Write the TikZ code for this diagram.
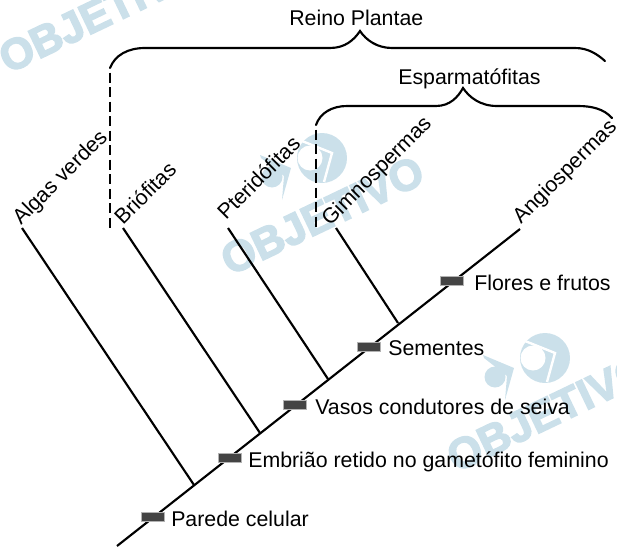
\documentclass[tikz,border=0pt]{standalone}
\usepackage{fontspec}
\setmainfont{Liberation Sans}
\newfontfamily\wmfont[BoldFeatures={FakeBold=3.5}]{Liberation Sans}
\definecolor{wm}{HTML}{CBE0EA}
\definecolor{barcol}{HTML}{444444}
\tikzset{
  x=0.75pt,y=-0.75pt,
  lbl/.style={font=\fontsize{16pt}{19pt}\selectfont,inner sep=0pt,anchor=base west,text=black},
  taxon/.style={lbl,rotate=45},
  traitbar/.style={fill=barcol,draw=gray!60,line width=0.4pt,minimum width=17pt,minimum height=7pt,inner sep=0pt},
  branch/.style={line width=1.6pt,black},
  brace/.style={line width=1.6pt,black,line cap=round},
  dashline/.style={line width=1.1pt,black,dash pattern=on 7.5pt off 3.4pt,dash phase=7.5pt},
  wmtext/.style={font=\fontsize{32.4pt}{34pt}\selectfont\wmfont\bfseries,text=wm,inner sep=0pt,anchor=base west,rotate=25.6},
}
\newcommand{\wmlogo}[2]{%
  \begin{scope}[shift={(#1,#2)}]
    \fill[wm] (0,0) circle (25);
    \draw[white,line width=1.8pt,line join=miter] (-20,-17) -- (10,-5) -- (2,24);
    \fill[white] (-12,0) circle (12.5);
    \fill[wm] (-50,19) circle (10.5);
    \fill[wm] (-62,-3) -- (-31,10) -- (-40,42) -- (-38,18) -- (-61,0) -- cycle;
  \end{scope}}
\begin{document}
\begin{tikzpicture}
\useasboundingbox (0,0) rectangle (617,546);
\begin{scope}
\clip (0,0) rectangle (617,546);
\node[wmtext] (wm1) at (8,74) {OBJETIVO};
\node[wmtext] (wm2) at (230,276) {OBJETIVO};
\node[wmtext] (wm3) at (456,473) {OBJETIVO};
\wmlogo{322}{158}
\wmlogo{545}{358}
\end{scope}

% coordinates of the phylogeny
\coordinate (root) at (117,546);
\coordinate (tipA) at (520,229);
\coordinate (n1) at (194,485);
\coordinate (n2) at (260,433);
\coordinate (n3) at (328,379);
\coordinate (n4) at (398,323);
\coordinate (t1) at (22,228);
\coordinate (t2) at (123,228);
\coordinate (t3) at (228,228);
\coordinate (t4) at (336,228);
\coordinate (d1a) at (110,68);
\coordinate (d1b) at (110,229);
\coordinate (d2a) at (316,125);
\coordinate (d2b) at (316,229);

\draw[branch] (root) -- (tipA);
\draw[branch] (t1) -- (n1);
\draw[branch] (t2) -- (n2);
\draw[branch] (t3) -- (n3);
\draw[branch] (t4) -- (n4);
\draw[dashline] (d1a) -- (d1b);
\draw[dashline] (d2a) -- (d2b);

\draw[brace] (d1a) .. controls (115,55) and (128,48) .. (145,48) -- (330,48)
  .. controls (345,48) and (354,40) .. (360,31)
  .. controls (366,40) and (377,48) .. (392,48) -- (575,48)
  .. controls (588,48) and (597,54) .. (605,61);
\draw[brace] (d2a) .. controls (320,113) and (332,106) .. (347,106) -- (436,106)
  .. controls (450,106) and (458,97) .. (463,88)
  .. controls (469,97) and (480,106) .. (497,106) -- (578,106)
  .. controls (592,106) and (604,109) .. (612,118);

\node[traitbar] (b1) at (153,517) {};
\node[traitbar] (b2) at (230,458) {};
\node[traitbar] (b3) at (295,405) {};
\node[traitbar] (b4) at (369,347) {};
\node[traitbar] (b5) at (452,281) {};

\node[lbl] (l1) at (171,526) {Parede celular};
\node[lbl] (l2) at (248,467) {Embrião retido no gametófito feminino};
\node[lbl] (l3) at (315,414) {Vasos condutores de seiva};
\node[lbl] (l4) at (388,355) {Sementes};
\node[lbl] (l5) at (474,290) {Flores e frutos};
\node[lbl] (top1) at (289,26) {Reino Plantae};
\node[lbl] (top2) at (398,84) {Esparmatófitas};

\node[taxon] (a) at (21,226) {Algas verdes};
\node[taxon] (b) at (123,226) {Briófitas};
\node[taxon] (c) at (226,221) {Pteridófitas};
\node[taxon] (d) at (330,227) {Gimnospermas};
\node[taxon] (e) at (521,225) {Angiospermas};
\end{tikzpicture}
\end{document}
